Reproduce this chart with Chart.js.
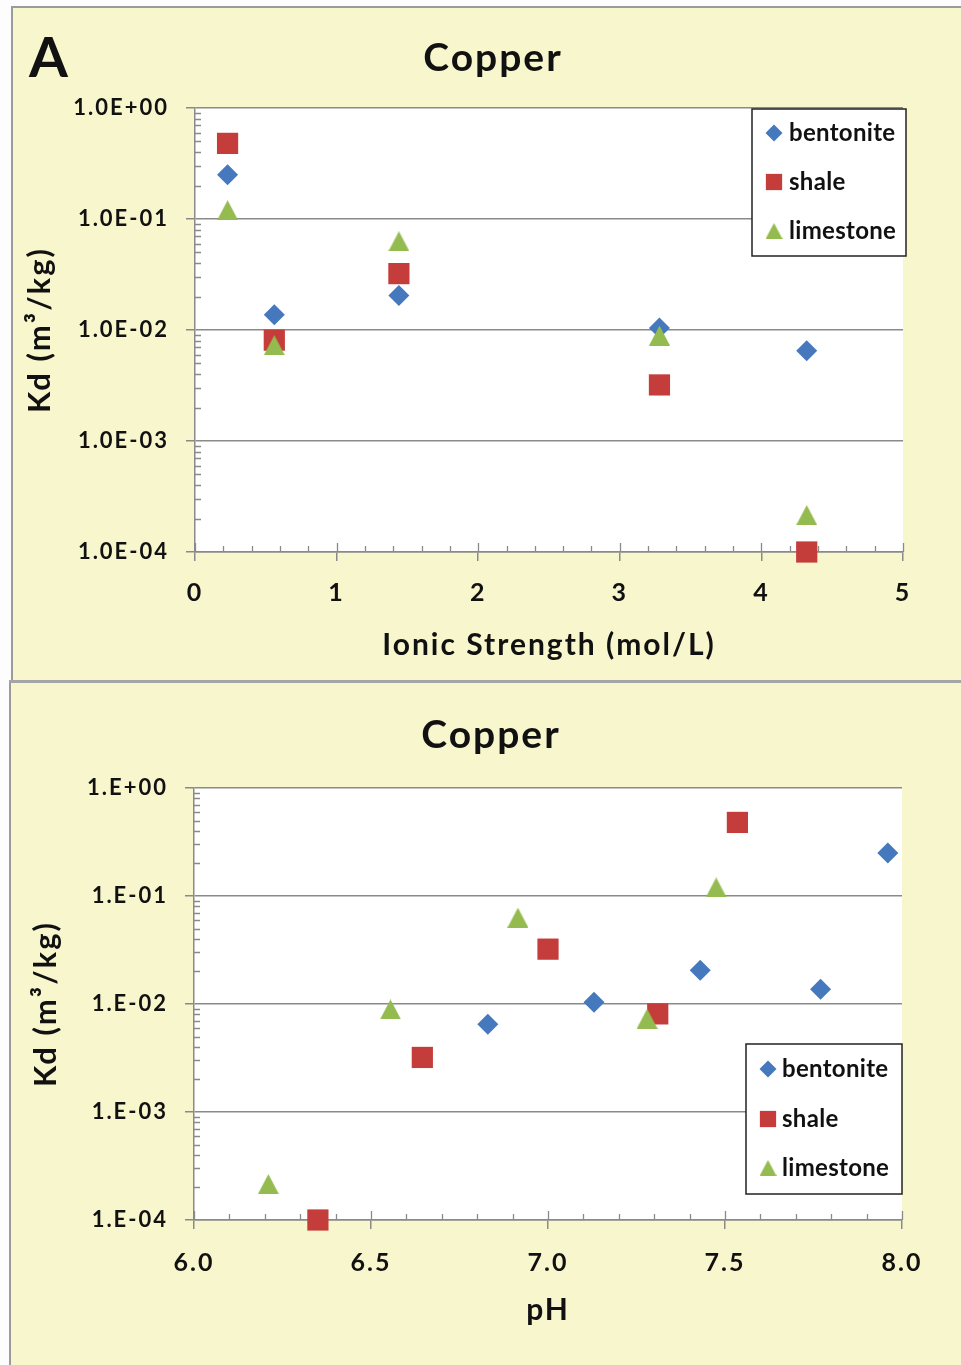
<!DOCTYPE html>
<html lang="en">
<head>
<meta charset="utf-8">
<title>Copper Kd</title>
<script src="https://cdn.jsdelivr.net/npm/chart.js@4.4.1/dist/chart.umd.min.js"></script>
<style>
  html,body{margin:0;padding:0;background:#fdfdfd;}
  body{position:relative;width:961px;height:1365px;overflow:hidden;font-family:Lato,"Open Sans",sans-serif;color:#111;}
  .panel{position:absolute;background:#f8f6cd;}
  .panel canvas{position:absolute;left:0;top:0;}
  .rule{position:absolute;background:#9b9b9b;}
  .ttl{position:absolute;font-weight:bold;line-height:1;white-space:nowrap;}
</style>
</head>
<body>
<div class="panel" style="left:12px;top:7px;width:949px;height:673px">
  <canvas id="chartA" width="949" height="673"></canvas>
</div>
<div class="rule" style="left:11px;top:6px;width:950px;height:1.5px"></div>
<div class="rule" style="left:11px;top:6px;width:1.5px;height:674px"></div>
<div class="rule" style="left:9px;top:680px;width:952px;height:3px;background:#a5a5a5"></div>
<div class="panel" style="left:11px;top:683px;width:950px;height:682px">
  <canvas id="chartB" width="950" height="682"></canvas>
</div>
<div class="rule" style="left:9px;top:683px;width:2px;height:682px"></div>
<div class="ttl" style="left:29px;top:28px;font-size:56px">A</div>
<div class="ttl" style="left:393px;top:37px;width:200px;text-align:center;font-size:39px;letter-spacing:2px">Copper</div>
<div class="ttl" style="left:391px;top:714px;width:200px;text-align:center;font-size:39px;letter-spacing:2px">Copper</div>
<script>
// ---- data ----
const minerals = ['bentonite','shale','limestone'];
// Kd (m3/kg) per sample, same samples in both panels
const kdBentonite = [0.25, 0.0137, 0.0205, 0.0104, 0.0065];
const kdShale     = [0.48, 0.0081, 0.0322, 0.0032, 0.0001];
const kdLimestone = [0.12, 0.0073, 0.063, 0.0089, 0.000215];
// ionic strength of the samples (mol/L)
const ionicStrength = [0.23, 0.56, 1.44, 3.28, 4.32];
// measured pH of each sample
const phBentonite = [7.96, 7.77, 7.43, 7.13, 6.83];
const phShale     = [7.535, 7.31, 7.0, 6.645, 6.35];
const phLimestone = [7.475, 7.28, 6.915, 6.555, 6.21];
// axis ticks
const kdTicks   = [0.0001, 0.001, 0.01, 0.1, 1];
const kdLabelsA = ['1.0E-04','1.0E-03','1.0E-02','1.0E-01','1.0E+00'];
const kdLabelsB = ['1.E-04','1.E-03','1.E-02','1.E-01','1.E+00'];
const ionicTicks  = [0, 1, 2, 3, 4, 5];
const ionicLabels = ['0','1','2','3','4','5'];
const phTicks  = [6.0, 6.5, 7.0, 7.5, 8.0];
const phLabels = ['6.0','6.5','7.0','7.5','8.0'];

const FONT = 'Lato, "Open Sans", sans-serif';
const GRAY = '#8a8a8a';
const COLORS = ['#4678be', '#c43d3b', '#94bb4f'];
Chart.defaults.font.family = FONT;
Chart.defaults.color = '#111';

// upright triangle sprite, centred on its bounding box
function triangle(w, h, color){
  const c = document.createElement('canvas');
  c.width = w; c.height = h;
  const g = c.getContext('2d');
  g.fillStyle = color;
  g.beginPath(); g.moveTo(w / 2, 0); g.lineTo(w, h); g.lineTo(0, h); g.closePath(); g.fill();
  return c;
}
const STYLES = ['rectRot', 'rect', triangle(21, 20, COLORS[2])];
const RADII  = [10.5, 15, 11];
const LEGEND_STYLES = ['rectRot', 'rect', triangle(17, 16, COLORS[2])];

// white plot area on the yellow panel; wider tracking for the axis text
const plotBg = {
  id: 'plotBg',
  beforeDraw(chart){
    const {ctx, chartArea:a} = chart;
    ctx.letterSpacing = '2px';
    ctx.save(); ctx.fillStyle = '#fff';
    ctx.fillRect(a.left, a.top, a.right - a.left, a.bottom - a.top);
    ctx.restore();
  }
};

// short inner tick marks (log minors on y, minors + upper half of majors on x)
const innerTicks = {
  id: 'innerTicks',
  beforeDatasetsDraw(chart, args, o){
    const {ctx, chartArea:a} = chart;
    const xs = chart.scales.x, ys = chart.scales.y;
    ctx.save();
    ctx.strokeStyle = GRAY; ctx.lineWidth = 1.3;
    ctx.beginPath();
    for (let d = 0; d < kdTicks.length - 1; d++) {
      for (let m = 2; m <= 9; m++) {
        const py = Math.round(ys.getPixelForValue(kdTicks[d] * m)) + 0.5;
        ctx.moveTo(a.left, py); ctx.lineTo(a.left + 6, py);
      }
    }
    const n = Math.round((xs.max - xs.min) / o.step);
    for (let i = 0; i <= n; i++) {
      const px = Math.round(xs.getPixelForValue(xs.min + i * o.step)) + 0.5;
      const len = i % o.per === 0 ? 9 : 6;
      ctx.moveTo(px, a.bottom); ctx.lineTo(px, a.bottom - len);
    }
    ctx.stroke();
    ctx.restore();
  }
};

// boxed legend inside the plot
const boxLegend = {
  id: 'boxLegend',
  afterDatasetsDraw(chart, args, o){
    const ctx = chart.ctx;
    ctx.save();
    ctx.letterSpacing = '0.3px';
    ctx.fillStyle = '#fff'; ctx.fillRect(o.x, o.y, o.w, o.h);
    ctx.strokeStyle = '#222'; ctx.lineWidth = 1.5; ctx.strokeRect(o.x, o.y, o.w, o.h);
    chart.data.datasets.forEach((ds, i) => {
      const cy = o.rows[i];
      ctx.fillStyle = ds.backgroundColor;
      Chart.helpers.drawPoint(ctx, {pointStyle: LEGEND_STYLES[i], radius: o.radii[i], borderWidth: 0, rotation: 0}, o.markX, cy);
      ctx.fillStyle = '#111';
      ctx.font = 'bold 24px ' + FONT;
      ctx.textBaseline = 'middle';
      ctx.textAlign = 'left';
      ctx.fillText(ds.label, o.textX, cy);
    });
    ctx.restore();
  }
};

function makeSets(xLists){
  const kd = [kdBentonite, kdShale, kdLimestone];
  return minerals.map((name, k) => ({
    label: name,
    data: xLists[k].map((x, i) => ({x, y: kd[k][i]})),
    pointStyle: STYLES[k],
    pointRadius: RADII[k],
    backgroundColor: COLORS[k],
    borderWidth: 0,
    order: minerals.length - 1 - k, // later series painted on top
    clip: false
  }));
}

function makeChart(id, cfg){
  return new Chart(document.getElementById(id), {
    type: 'scatter',
    data: {datasets: makeSets(cfg.xLists)},
    plugins: [plotBg, innerTicks, boxLegend],
    options: {
      responsive: false,
      animation: false,
      events: [],
      layout: {padding: {top: cfg.top, right: cfg.right, left: 0, bottom: 0}},
      plugins: {
        legend: {display: false},
        tooltip: {enabled: false},
        innerTicks: {step: cfg.minor, per: cfg.per},
        boxLegend: cfg.legend
      },
      scales: {
        x: {
          type: 'linear',
          min: cfg.xTicks[0], max: cfg.xTicks[cfg.xTicks.length - 1],
          afterBuildTicks: s => { s.ticks = cfg.xTicks.map(v => ({value: v})); },
          afterFit: s => { s.height = cfg.xHeight; },
          ticks: {
            autoSkip: false, maxRotation: 0, padding: cfg.xPad,
            font: {size: 25, weight: 'bold'}, color: '#111',
            callback: (v, i) => cfg.xLabels[i]
          },
          grid: {drawOnChartArea: false, drawTicks: true, tickLength: 9, color: GRAY, lineWidth: 1.5},
          border: {display: true, color: GRAY, width: 1.5},
          title: {display: true, text: cfg.xTitle, font: {size: 30, weight: 'bold'}, color: '#111', padding: {top: 0, bottom: cfg.xTitlePad}}
        },
        y: {
          type: 'logarithmic',
          min: 0.0001, max: 1,
          afterBuildTicks: s => { s.ticks = kdTicks.map(v => ({value: v})); },
          afterFit: s => { s.width = cfg.yWidth; },
          ticks: {
            autoSkip: false, padding: 17,
            font: {size: 22, weight: 'bold'}, color: '#111',
            callback: (v, i) => cfg.yLabels[i]
          },
          grid: {drawTicks: true, tickLength: 9, color: GRAY, lineWidth: 1.5},
          border: {display: true, color: GRAY, width: 1.5},
          title: {display: true, text: 'Kd (m³/kg)', font: {size: 31, weight: 'bold'}, color: '#111', padding: {top: cfg.yTitlePad, bottom: 0}}
        }
      }
    }
  });
}

// A: Kd against ionic strength
makeChart('chartA', {
  xLists: [ionicStrength, ionicStrength, ionicStrength],
  xTicks: ionicTicks, xLabels: ionicLabels, yLabels: kdLabelsA,
  xTitle: 'Ionic Strength (mol/L)',
  minor: 0.2, per: 5,
  top: 101, right: 58, yWidth: 183, xHeight: 128,
  xPad: 17, xTitlePad: 17, yTitlePad: 9,
  legend: {x: 740, y: 102, w: 154, h: 147, rows: [126, 175, 224], radii: [8.5, 11.5, 0], markX: 762, textX: 777}
});

// Kd against pH
makeChart('chartB', {
  xLists: [phBentonite, phShale, phLimestone],
  xTicks: phTicks, xLabels: phLabels, yLabels: kdLabelsB,
  xTitle: 'pH',
  minor: 0.1, per: 5,
  top: 105, right: 59, yWidth: 183, xHeight: 145,
  xPad: 19, xTitlePad: 37, yTitlePad: 16,
  legend: {x: 735, y: 361, w: 156, h: 150, rows: [386, 436, 485], radii: [8.5, 11.5, 0], markX: 757, textX: 771}
});
</script>
</body>
</html>
